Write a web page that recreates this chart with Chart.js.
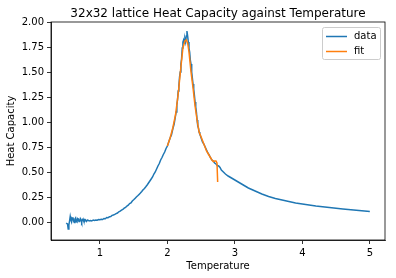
<!DOCTYPE html>
<html>
<head>
<meta charset="utf-8">
<script src="https://cdn.jsdelivr.net/npm/chart.js@4.4.0/dist/chart.umd.min.js"></script>
<style>
  html, body { margin: 0; padding: 0; background: #fff; }
  #wrap { width: 396px; height: 278px; }
</style>
</head>
<body>
<div id="wrap"><canvas id="heatChart" width="396" height="278"></canvas></div>
<script>
// measured heat capacity, 32x32 lattice
const temperature = [
  0.50, 0.51, 0.52, 0.53, 0.54, 0.55, 0.56, 0.57, 0.58, 0.59, 0.60, 0.61, 0.62, 0.63, 0.64, 0.65,
  0.66, 0.67, 0.68, 0.69, 0.70, 0.71, 0.72, 0.73, 0.74, 0.75, 0.76, 0.77, 0.78, 0.79, 0.80, 0.82,
  0.84, 0.86, 0.88, 0.90, 0.92, 0.94, 0.96, 0.98, 1.00, 1.02, 1.04, 1.06, 1.08, 1.10, 1.12, 1.14,
  1.16, 1.18, 1.20, 1.22, 1.24, 1.26, 1.28, 1.30, 1.32, 1.34, 1.36, 1.38, 1.40, 1.42, 1.44, 1.46,
  1.48, 1.50, 1.52, 1.54, 1.56, 1.58, 1.60, 1.62, 1.64, 1.66, 1.68, 1.70, 1.72, 1.74, 1.76, 1.78,
  1.80, 1.82, 1.84, 1.86, 1.88, 1.90, 1.92, 1.94, 1.96, 1.98, 2.00, 2.02, 2.04, 2.06, 2.08, 2.10,
  2.12, 2.13, 2.14, 2.15, 2.16, 2.17, 2.18, 2.19, 2.20, 2.21, 2.22, 2.23, 2.24, 2.25, 2.26, 2.27,
  2.28, 2.29, 2.30, 2.31, 2.32, 2.33, 2.34, 2.35, 2.36, 2.37, 2.38, 2.39, 2.40, 2.41, 2.42, 2.43,
  2.44, 2.45, 2.46, 2.47, 2.48, 2.50, 2.52, 2.54, 2.56, 2.58, 2.60, 2.62, 2.64, 2.66, 2.68, 2.70,
  2.72, 2.74, 2.76, 2.78, 2.80, 2.83, 2.86, 2.90, 2.95, 3.00, 3.05, 3.10, 3.15, 3.20, 3.30, 3.40,
  3.50, 3.60, 3.70, 3.80, 3.90, 4.00, 4.20, 4.40, 4.60, 4.80, 5.00
];
const heatCapacity = [
  -0.01, -0.015, -0.02, -0.07, -0.03, 0.01, 0.055, 0.02, 0.00, 0.04, 0.045, 0.01, -0.005, 0.03, 0.04, 0.005,
  0.00, 0.035, 0.03, 0.005, 0.01, 0.035, 0.025, 0.00, 0.02, 0.03, 0.01, 0.005, 0.025, 0.02, 0.005, 0.02,
  0.01, 0.015, 0.01, 0.02, 0.015, 0.02, 0.018, 0.025, 0.022, 0.028, 0.025, 0.035, 0.033, 0.045, 0.042, 0.052,
  0.055, 0.066, 0.07, 0.076, 0.084, 0.09, 0.102, 0.108, 0.118, 0.125, 0.138, 0.146, 0.16, 0.168, 0.184, 0.19,
  0.21, 0.222, 0.236, 0.25, 0.262, 0.276, 0.29, 0.305, 0.322, 0.336, 0.352, 0.37, 0.39, 0.41, 0.43, 0.45,
  0.48, 0.50, 0.53, 0.56, 0.585, 0.62, 0.645, 0.675, 0.70, 0.735, 0.76, 0.80, 0.84, 0.87, 0.93, 0.98,
  1.06, 1.10, 1.17, 1.22, 1.31, 1.36, 1.45, 1.50, 1.58, 1.63, 1.74, 1.80, 1.82, 1.79, 1.83, 1.80,
  1.86, 1.91, 1.86, 1.80, 1.74, 1.70, 1.62, 1.58, 1.50, 1.44, 1.38, 1.33, 1.27, 1.20, 1.15, 1.10,
  1.02, 0.96, 0.94, 0.90, 0.88, 0.84, 0.80, 0.78, 0.75, 0.72, 0.69, 0.67, 0.64, 0.62, 0.61, 0.59,
  0.58, 0.565, 0.56, 0.545, 0.52, 0.50, 0.48, 0.46, 0.44, 0.42, 0.40, 0.38, 0.36, 0.34, 0.31, 0.28,
  0.255, 0.235, 0.22, 0.205, 0.19, 0.18, 0.16, 0.145, 0.13, 0.118, 0.105
];

// fitted curve near the critical temperature
const fitTemperature = [
  2.00, 2.04, 2.08, 2.12, 2.16, 2.20, 2.23, 2.26, 2.28, 2.30, 2.32, 2.35, 2.38, 2.41, 2.44, 2.47,
  2.50, 2.54, 2.58, 2.62, 2.66, 2.68, 2.70, 2.72, 2.735, 2.745
];
const fitHeatCapacity = [
  0.76, 0.84, 0.94, 1.07, 1.28, 1.55, 1.74, 1.81, 1.82, 1.79, 1.70, 1.50, 1.34, 1.16, 1.02, 0.90,
  0.85, 0.78, 0.71, 0.665, 0.62, 0.605, 0.61, 0.61, 0.59, 0.40
];

const xTicks = [1, 2, 3, 4, 5];
const yTicks = [0, 0.25, 0.5, 0.75, 1.0, 1.25, 1.5, 1.75, 2.0];
const seriesNames = ['data', 'fit'];
const seriesColors = ['#1f77b4', '#ff7f0e'];
const chartTitle = '32x32 lattice Heat Capacity against Temperature';

const FONT = "'DejaVu Sans', sans-serif";

// title centred over the axes, plus the matplotlib style frame
const framePlugin = {
  id: 'frame',
  afterDatasetsDraw(chart) {
    const { ctx, chartArea: a } = chart;
    ctx.save();
    ctx.strokeStyle = '#000';
    ctx.lineWidth = 0.8;
    ctx.strokeRect(a.left, a.top, a.right - a.left, a.bottom - a.top);
    ctx.fillStyle = '#000';
    ctx.font = '12px ' + FONT;
    ctx.textAlign = 'center';
    ctx.textBaseline = 'alphabetic';
    ctx.fillText(chartTitle, (a.left + a.right) / 2, 16.5);
    ctx.restore();
  }
};

// legend box in the upper right corner of the axes
const legendPlugin = {
  id: 'mplLegend',
  afterDraw(chart) {
    const { ctx, chartArea: a } = chart;
    const w = 58, h = 32;
    const x = a.right - 5 - w, y = a.top + 5;
    ctx.save();
    ctx.fillStyle = 'rgba(255,255,255,0.8)';
    ctx.strokeStyle = '#cccccc';
    ctx.lineWidth = 1;
    ctx.beginPath();
    ctx.roundRect(x + 0.5, y + 0.5, w, h, 2);
    ctx.fill();
    ctx.stroke();
    ctx.font = '10px ' + FONT;
    ctx.textBaseline = 'middle';
    seriesNames.forEach((name, i) => {
      const ly = y + 9.5 + i * 15;
      ctx.strokeStyle = seriesColors[i];
      ctx.lineWidth = 1.5;
      ctx.beginPath();
      ctx.moveTo(x + 4, ly);
      ctx.lineTo(x + 25, ly);
      ctx.stroke();
      ctx.fillStyle = '#000';
      ctx.fillText(name, x + 32, ly);
    });
    ctx.restore();
  }
};

const ctx = document.getElementById('heatChart').getContext('2d');
new Chart(ctx, {
  type: 'line',
  data: {
    datasets: [
      {
        label: seriesNames[0],
        data: temperature.map((t, i) => ({ x: t, y: heatCapacity[i] })),
        borderColor: seriesColors[0],
        borderWidth: 1.5,
        pointRadius: 0,
        tension: 0,
        order: 2
      },
      {
        label: seriesNames[1],
        data: fitTemperature.map((t, i) => ({ x: t, y: fitHeatCapacity[i] })),
        borderColor: seriesColors[1],
        borderWidth: 1.5,
        pointRadius: 0,
        tension: 0,
        order: 1
      }
    ]
  },
  options: {
    responsive: false,
    animation: false,
    layout: { padding: { left: 0, right: 11, top: 22, bottom: 0 } },
    plugins: {
      legend: { display: false },
      tooltip: { enabled: false },
      title: { display: false }
    },
    scales: {
      x: {
        type: 'linear',
        min: 0.275,
        max: 5.225,
        afterBuildTicks: s => { s.ticks = xTicks.map(v => ({ value: v })); },
        afterFit: s => { s.height = 38; },
        grid: { display: true, drawOnChartArea: false, drawTicks: true, tickLength: 4, color: '#000', lineWidth: 0.8 },
        border: { display: true, color: '#000', width: 0.8 },
        ticks: { color: '#000', padding: 3, maxRotation: 0, font: { family: FONT, size: 10 }, callback: v => String(v) },
        title: { display: true, text: 'Temperature', color: '#000', font: { family: FONT, size: 10 }, padding: { top: 0, bottom: 6 } }
      },
      y: {
        type: 'linear',
        min: -0.18,
        max: 2.0,
        afterBuildTicks: s => { s.ticks = yTicks.map(v => ({ value: v })); },
        afterFit: s => { s.width = 51; },
        grid: { display: true, drawOnChartArea: false, drawTicks: true, tickLength: 4, color: '#000', lineWidth: 0.8 },
        border: { display: true, color: '#000', width: 0.8 },
        ticks: { color: '#000', padding: 3, font: { family: FONT, size: 10 }, callback: v => v.toFixed(2) },
        title: { display: true, text: 'Heat Capacity', color: '#000', font: { family: FONT, size: 10 }, padding: { top: 5, bottom: 0 } }
      }
    }
  },
  plugins: [framePlugin, legendPlugin]
});
</script>
</body>
</html>
